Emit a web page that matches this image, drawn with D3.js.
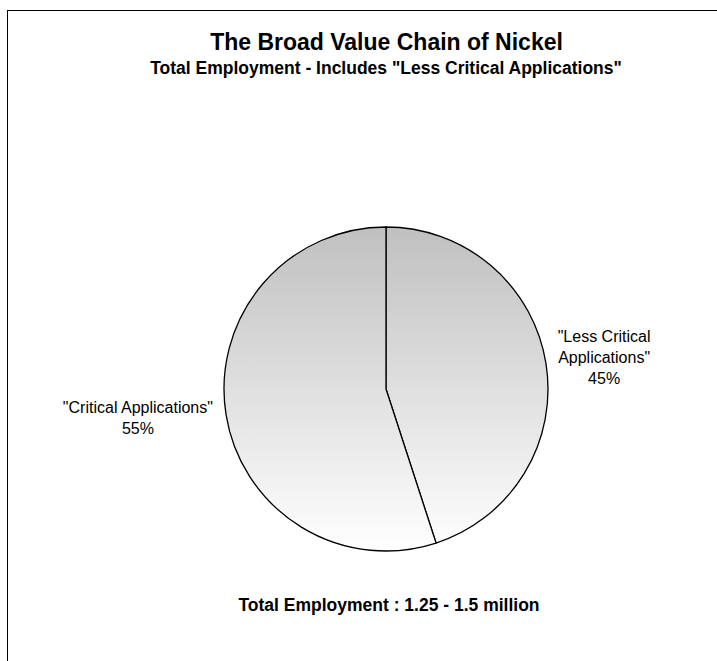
<!DOCTYPE html>
<html>
<head>
<meta charset="utf-8">
<script src="https://cdn.jsdelivr.net/npm/d3@7"></script>
<style>
  html, body { margin: 0; padding: 0; background: #fff; }
  svg { display: block; }
  text { font-family: "Liberation Sans", Arial, sans-serif; fill: #000; }
</style>
</head>
<body>
<svg id="chart" width="717" height="661"></svg>
<script>
// Employment split across the nickel value chain (percent of total)
const categories = ['"Less Critical Applications"', '"Critical Applications"'];
const shares = [45, 55];
const labelLines = [['"Less Critical', 'Applications"'], ['"Critical Applications"']];

const title = "The Broad Value Chain of Nickel";
const subtitle = 'Total Employment - Includes "Less Critical Applications"';
const footer = "Total Employment : 1.25 - 1.5 million";

const svg = d3.select("#chart");

// outer chart frame
svg.append("rect")
  .attr("x", 7.5).attr("y", 10.5)
  .attr("width", 760).attr("height", 700)
  .attr("fill", "#fff").attr("stroke", "#000").attr("stroke-width", 1);

const cx = 386, cy = 389, R = 162;

// vertical grey-to-white fill shared by both slices (coordinates relative to the pie group)
const defs = svg.append("defs");
const grad = defs.append("linearGradient")
  .attr("id", "sliceFill")
  .attr("gradientUnits", "userSpaceOnUse")
  .attr("x1", 0).attr("y1", -R)
  .attr("x2", 0).attr("y2", R);
grad.append("stop").attr("offset", "0%").attr("stop-color", "#c0c0c0");
grad.append("stop").attr("offset", "100%").attr("stop-color", "#ffffff");

const data = categories.map((c, i) => ({ name: c, value: shares[i], lines: labelLines[i] }));

const pie = d3.pie().sort(null).value(d => d.value);
const arc = d3.arc().innerRadius(0).outerRadius(R);
const arcs = pie(data);

const g = svg.append("g").attr("transform", `translate(${cx},${cy})`);
g.selectAll("path.slice")
  .data(arcs)
  .join("path")
  .attr("class", "slice")
  .attr("d", arc)
  .attr("fill", "url(#sliceFill)")
  .attr("stroke", "#000")
  .attr("stroke-width", 1.3)
  .attr("stroke-linejoin", "round");

// data labels placed outside each slice, on its mid-angle
const labelArc = d3.arc().innerRadius(R * 1.26).outerRadius(R * 1.26);
const fontSize = 16, lineGap = 21;
arcs.forEach(a => {
  const mid = (a.startAngle + a.endAngle) / 2;
  const [lx, ly] = labelArc.centroid(a);
  const right = Math.sin(mid) > 0;
  const lines = a.data.lines.concat([d3.format(".0f")(a.data.value) + "%"]);
  const bx = lx + (right ? 16.5 : -46.5);
  const byMid = ly + (right ? 6 : 3);
  const t = g.append("text")
    .attr("text-anchor", "middle")
    .style("font-size", fontSize + "px");
  lines.forEach((line, i) => {
    t.append("tspan")
      .attr("x", bx)
      .attr("y", byMid + (i - (lines.length - 1) / 2) * lineGap)
      .text(line);
  });
});

// titles
svg.append("text")
  .attr("x", 386.5).attr("y", 50)
  .attr("text-anchor", "middle")
  .style("font-size", "23px").style("font-weight", "bold")
  .text(title);
svg.append("text")
  .attr("x", 386).attr("y", 74)
  .attr("text-anchor", "middle")
  .style("font-size", "17.5px").style("font-weight", "bold")
  .text(subtitle);
svg.append("text")
  .attr("x", 389).attr("y", 611)
  .attr("text-anchor", "middle")
  .style("font-size", "17.5px").style("font-weight", "bold")
  .text(footer);
</script>
</body>
</html>
